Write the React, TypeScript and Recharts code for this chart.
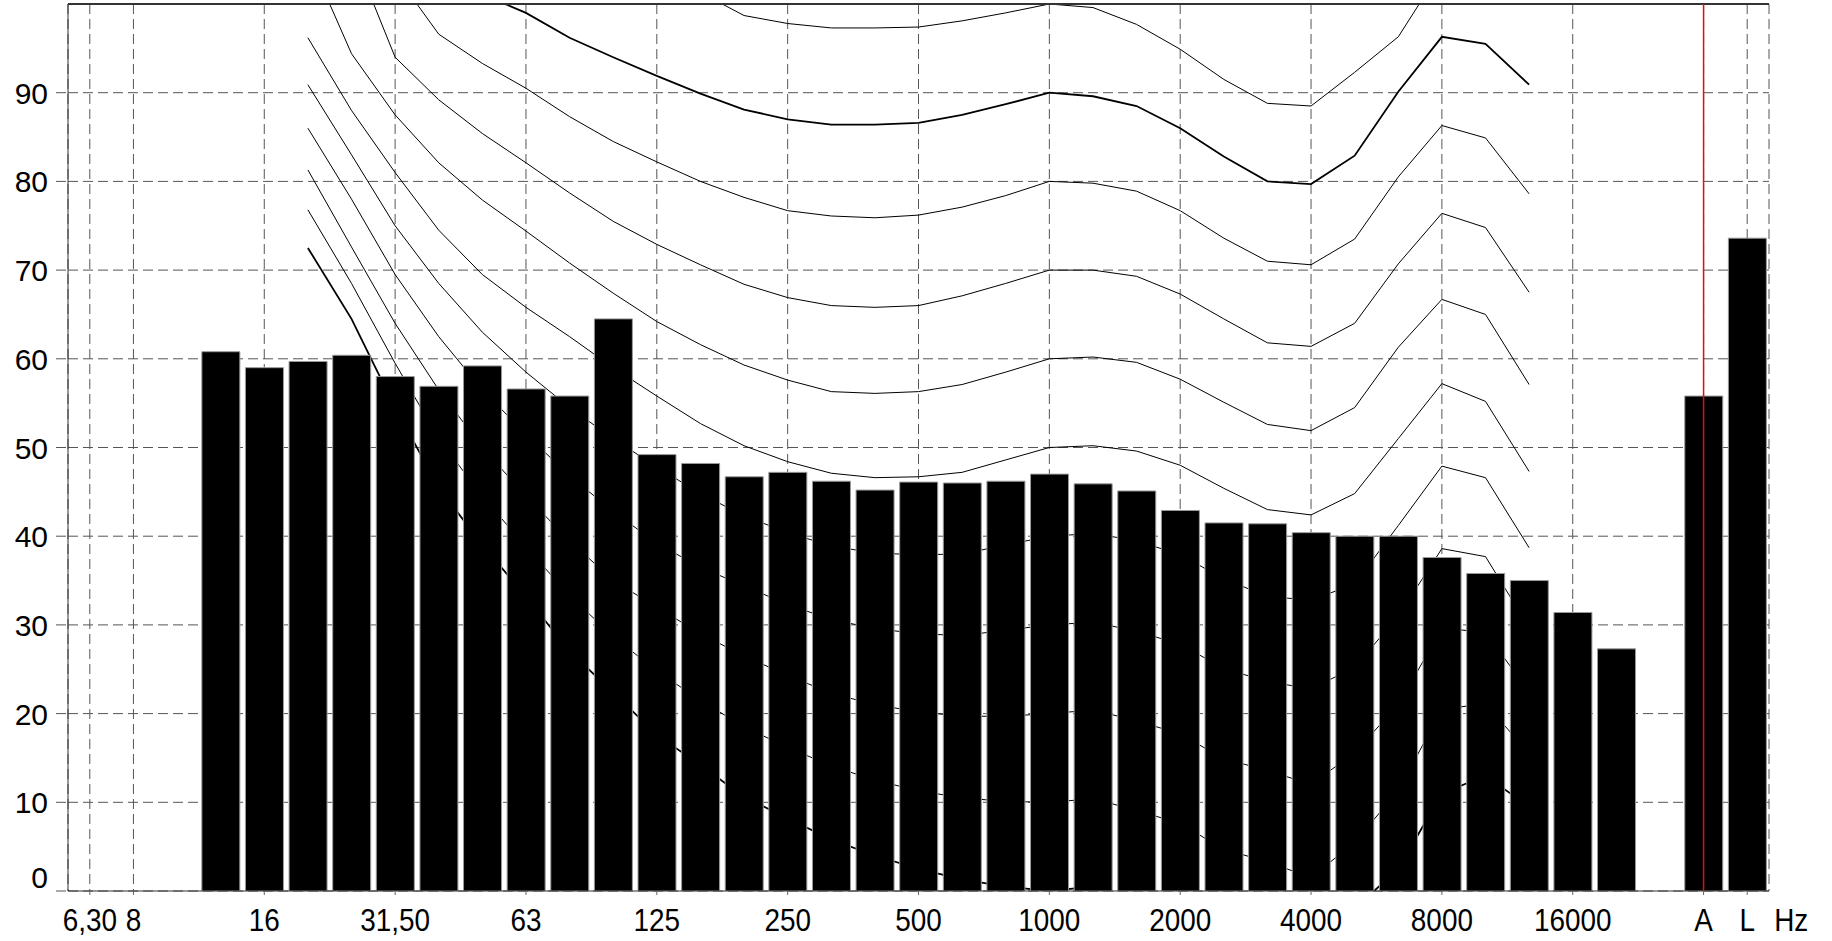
import { ComposedChart, Bar, Line, XAxis, YAxis, CartesianGrid, ReferenceLine } from 'recharts'

const FONT = '"Liberation Sans", Arial, sans-serif'

// third-octave bands, then an empty slot, then the A and L totals
const bands = [
  '6,30', '8', '10', '12,50', '16', '20', '25', '31,50', '40', '50', '63', '80', '100', '125', '160',
  '200', '250', '315', '400', '500', '630', '800', '1000', '1250', '1600', '2000', '2500', '3150',
  '4000', '5000', '6300', '8000', '10000', '12500', '16000', '20000', ' ', 'A', 'L',
]

const levels = [
  null, null, null, 60.8, 59.0, 59.7, 60.4, 58.0, 56.9, 59.2, 56.6, 55.8, 64.5, 49.2, 48.2,
  46.7, 47.2, 46.2, 45.2, 46.1, 46.0, 46.2, 47.0, 45.9, 45.1, 42.9, 41.5, 41.4,
  40.4, 40.0, 40.0, 37.6, 35.8, 35.0, 31.4, 27.3, null, 55.8, 73.6,
]

const xTicks = ['6,30', '8', '16', '31,50', '63', '125', '250', '500', '1000', '2000', '4000', '8000', '16000', 'A', 'L']
const yTicks = [0, 10, 20, 30, 40, 50, 60, 70, 80, 90]

// equal loudness contours, 20 Hz .. 12500 Hz
const contourFirstBand = '20'
const phon0 = [72.5, 64.5, 54.5, 45.5, 39.0, 33.2, 27.0, 22.4, 17.6, 14.2, 10.6, 8.2, 5.8, 4.0, 2.5, 1.3, 0.5, 0, 0.5, -1.0, -2.5, -5.5, -6.5, -6.0, -2.0, 2.5, 11.0, 13.0, 9.5]
const phon10 = [76.8, 68.5, 59.5, 51.0, 44.5, 38.8, 33.3, 28.7, 24.8, 21.5, 18.5, 16.2, 14.1, 12.5, 11.3, 10.5, 10.1, 10, 10.4, 9.1, 7.6, 4.7, 3.3, 1.5, 5.5, 11.3, 20.5, 21.1, 15.5]
const phon20 = [81.3, 72.6, 64.0, 56.5, 50.0, 44.5, 39.5, 35.0, 32.0, 29.0, 26.5, 24.3, 22.3, 21.0, 20.2, 19.7, 19.7, 20, 20.4, 19.2, 17.7, 14.9, 13.6, 12.0, 15.6, 21.0, 29.6, 29.2, 22.4]
const phon30 = [86.0, 78.0, 69.5, 62.5, 56.5, 51.5, 46.8, 42.8, 39.2, 36.5, 34.4, 32.3, 30.6, 29.6, 29.0, 28.8, 29.4, 30, 30.3, 29.3, 27.8, 25.1, 23.6, 22.8, 25.2, 31.0, 38.6, 37.7, 29.7]
const phon40 = [90.9, 83.0, 75.0, 68.5, 63.0, 58.5, 54.5, 51.0, 47.8, 44.8, 42.3, 40.4, 38.9, 38.1, 37.9, 38.0, 39.0, 40, 40.3, 39.5, 37.9, 35.2, 33.2, 32.8, 34.6, 41.2, 47.9, 46.6, 38.7]
const phon50 = [96.2, 88.0, 81.0, 74.5, 69.5, 65.8, 62.5, 59.0, 55.8, 52.7, 50.2, 48.4, 47.1, 46.6, 46.7, 47.2, 48.6, 50, 50.2, 49.6, 48.0, 45.4, 43.0, 42.4, 44.8, 51.0, 57.2, 55.2, 47.3]
const phon60 = [105.6, 94.4, 87.5, 82.1, 77.9, 74.4, 70.8, 67.4, 64.2, 61.6, 59.3, 57.6, 56.3, 56.1, 56.3, 57.1, 58.5, 60, 60.2, 59.6, 57.7, 55.1, 52.6, 51.9, 54.5, 61.3, 66.7, 65.0, 57.1]
const phon70 = [112, 106.2, 94.0, 89.2, 85.4, 82.1, 78.7, 75.5, 72.9, 70.6, 68.4, 66.9, 66.0, 65.8, 66.0, 67.1, 68.5, 70, 70, 69.3, 67.3, 64.5, 61.8, 61.4, 64.0, 70.7, 76.4, 74.8, 67.5]
const phon80 = [118, 111, 103.4, 96.6, 93.3, 90.5, 87.3, 84.5, 82.2, 80.0, 78.2, 76.7, 76.1, 75.9, 76.2, 77.1, 78.4, 80, 79.8, 78.9, 76.7, 73.6, 71.0, 70.6, 73.5, 80.5, 86.3, 84.9, 78.6]
const phon90 = [124, 117, 110, 105, 101.1, 99.0, 96.2, 94.0, 91.9, 89.9, 88.1, 87.0, 86.4, 86.4, 86.6, 87.5, 88.7, 90, 89.6, 88.5, 86.0, 82.8, 80.0, 79.7, 82.9, 90.1, 96.3, 95.5, 90.9]
const phon100 = [130, 123, 117, 112, 109, 107, 105, 103.3, 102, 101.3, 98.7, 97.8, 97.3, 97.3, 97.4, 98.1, 99.0, 100, 99.6, 97.7, 94.9, 91.5, 88.8, 88.5, 92.3, 96.3, 104, 103.5, 101]

const phons = [0, 10, 20, 30, 40, 50, 60, 70, 80, 90, 100]
const contours = [phon0, phon10, phon20, phon30, phon40, phon50, phon60, phon70, phon80, phon90, phon100]
const boldPhons = [0, 90]

const start = bands.indexOf(contourFirstBand)
const data = bands.map((band, i) => {
  const row: Record<string, string | number | null | undefined> = { band, level: levels[i] }
  phons.forEach((p, k) => {
    const j = i - start
    row['p' + p] = j >= 0 && j < contours[k].length ? contours[k][j] : undefined
  })
  return row
})

function XTick(props: any) {
  const { x, y, payload } = props
  return (
    <g transform={`translate(${x},${y}) scale(0.9,1)`}>
      <text x={0} y={0} dy={34} textAnchor="middle" fontSize={31} fontFamily={FONT} fill="#000">
        {payload.value}
      </text>
      {payload.value === 'L' && (
        <text x={49} y={0} dy={34} textAnchor="middle" fontSize={31} fontFamily={FONT} fill="#000">
          Hz
        </text>
      )}
    </g>
  )
}

function YTick(props: any) {
  const { x, y, payload } = props
  const shift = payload.value === 0 ? -14 : 0
  return (
    <text x={x} y={y + shift} dy={11} textAnchor="end" fontSize={30} fontFamily={FONT} fill="#000">
      {payload.value}
    </text>
  )
}

export default function App() {
  return (
    <div style={{ position: 'absolute', left: 0, top: 0, background: '#fff' }}>
      <ComposedChart
        width={1832}
        height={941}
        data={data}
        margin={{ top: 4, right: 63, bottom: 0, left: 0 }}
      >
        <CartesianGrid stroke="#555" strokeDasharray="10 5" />
        <XAxis
          dataKey="band"
          ticks={xTicks}
          interval={0}
          height={50}
          tick={<XTick />}
          tickSize={4}
          tickLine={{ stroke: '#666' }}
          axisLine={{ stroke: '#333' }}
        />
        <YAxis
          domain={[0, 100]}
          ticks={yTicks}
          allowDataOverflow
          width={68}
          tickSize={12}
          tickMargin={8}
          tick={<YTick />}
          tickLine={{ stroke: '#555', strokeDasharray: '10 5' }}
          axisLine={{ stroke: '#333' }}
        />
        <YAxis
          yAxisId="frame"
          orientation="right"
          width={0}
          domain={[0, 100]}
          tick={false}
          tickLine={false}
          axisLine={{ stroke: '#888' }}
        />
        {phons.map((p) => (
          <Line
            key={p}
            dataKey={'p' + p}
            type="linear"
            stroke="#000"
            strokeWidth={boldPhons.includes(p) ? 1.8 : 1}
            dot={false}
            activeDot={false}
            legendType="none"
            isAnimationActive={false}
            zIndex={250}
          />
        ))}
        <Bar
          dataKey="level"
          barSize={38}
          fill="#000"
          stroke="#9a9a9a"
          strokeWidth={1}
          isAnimationActive={false}
          zIndex={350}
        />
        <ReferenceLine y={100} stroke="#333" strokeWidth={2} zIndex={800} />
        <ReferenceLine x="A" stroke="#e01010" strokeWidth={1.5} zIndex={900} />
      </ComposedChart>
    </div>
  )
}
